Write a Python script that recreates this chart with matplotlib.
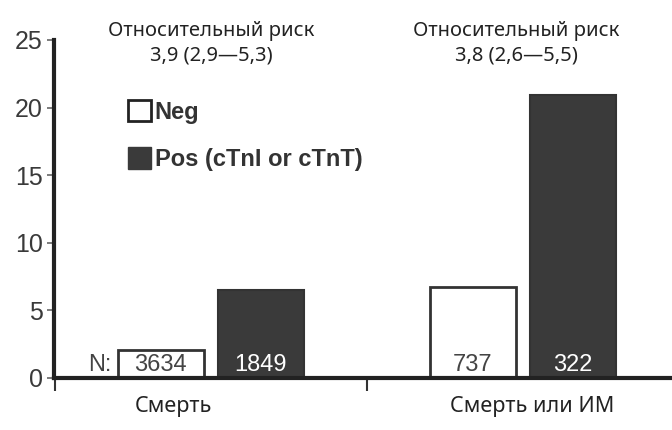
import matplotlib
matplotlib.use("Agg")
import matplotlib.pyplot as plt
from matplotlib.patches import Patch
import numpy as np

categories = ["Смерть", "Смерть или ИМ"]
neg_values = [2.1, 6.7]
pos_values = [6.5, 20.9]
neg_n = ["3634", "737"]
pos_n = ["1849", "322"]
rr_labels = ["Относительный риск\n3,9 (2,9—5,3)", "Относительный риск\n3,8 (2,6—5,5)"]
yticks = [0, 5, 10, 15, 20, 25]
series_names = ["Neg", "Pos (cTnI or cTnT)"]

fig = plt.figure(figsize=(6.72, 4.30), dpi=100)
ax = fig.add_axes([0.080, 0.121, 0.920, 0.786])

x = np.arange(len(categories))
w = 0.276
off = 0.16
dark = "#3a3a3a"
ax.bar(x - off, neg_values, width=w, color="white", edgecolor="#333333", linewidth=2, zorder=3)
ax.bar(x + off, pos_values, width=w, color=dark, edgecolor="#333333", linewidth=1.5, zorder=3)

ax.set_xlim(-0.503, 1.478)
ax.set_ylim(0, 25)
ax.set_yticks(yticks)
ax.set_yticklabels([str(t) for t in yticks], fontsize=18, color="#3a3a3a", family="Liberation Sans")
ax.tick_params(axis="y", length=5, width=1.2, color="#666666", pad=3)
ax.set_xticks([-0.5, 0.5])
ax.set_xticklabels(["", ""])
ax.tick_params(axis="x", length=9, width=1.5, color="#333333", direction="out")

for s in ["top", "right"]:
    ax.spines[s].set_visible(False)
ax.spines["left"].set_linewidth(3)
ax.spines["bottom"].set_linewidth(3)
ax.spines["left"].set_color("#222222")
ax.spines["bottom"].set_color("#222222")
ax.spines["bottom"].set_zorder(5)

ty = 0.95
for i in range(len(categories)):
    ax.text(i - off, ty, neg_n[i], ha="center", va="center", fontsize=17,
            color="#444444", family="Liberation Sans", zorder=4)
    ax.text(i + off, ty, pos_n[i], ha="center", va="center", fontsize=17,
            color="white", family="Liberation Sans", zorder=4)
ax.text(-off - w / 2 - 0.02, ty, "N:", ha="right", va="center", fontsize=17,
        color="#444444", family="Liberation Sans", zorder=4)

cat_x = [-0.12, 1.03]
for i, c in enumerate(categories):
    ax.text(cat_x[i], -2.1, c, ha="center", va="center", fontsize=15.5,
            color="#222222", family="Noto Sans", clip_on=False)

rr_x = [0.003, 0.98]
for i, t in enumerate(rr_labels):
    ax.text(rr_x[i], 24.75, t, ha="center", va="center", fontsize=14.5,
            color="#222222", family="Noto Sans", linespacing=1.3, clip_on=False)

handles = [Patch(facecolor="white", edgecolor="#222222", linewidth=2),
           Patch(facecolor=dark, edgecolor=dark, linewidth=1)]
leg = ax.legend(handles, series_names, loc="upper left", bbox_to_anchor=(0.104, 0.85),
                frameon=False, handlelength=1.0, handleheight=1.0, handletextpad=0.15,
                labelspacing=1.0, borderaxespad=0,
                prop={"family": "Liberation Sans", "weight": "bold", "size": 17})
for t in leg.get_texts():
    t.set_color("#333333")

fig.savefig("out.png", dpi=100)
